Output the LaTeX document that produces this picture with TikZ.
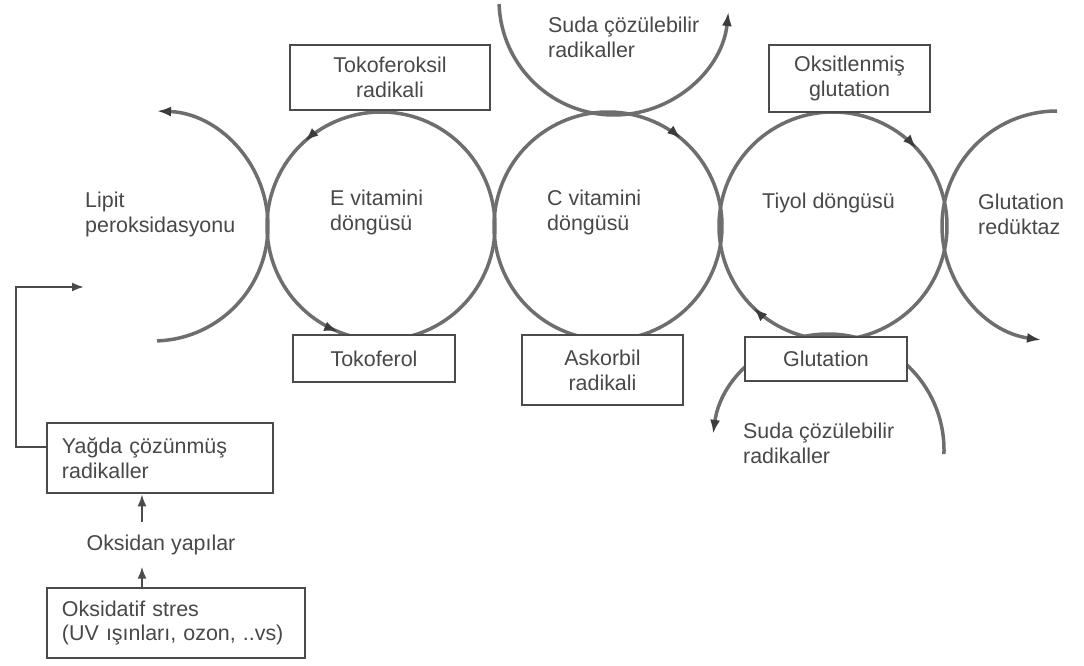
\documentclass[tikz,border=0pt]{standalone}
\usepackage{fontspec}
\setmainfont{Liberation Sans}
\usetikzlibrary{arrows.meta,decorations.markings,calc}
\definecolor{linegray}{RGB}{110,110,110}
\definecolor{tipgray}{RGB}{60,60,60}
\definecolor{boxgray}{RGB}{75,75,75}
\definecolor{txtgray}{RGB}{72,72,72}
\newcommand{\lbl}{\fontsize{21.5}{25}\selectfont}
\tikzset{
  cyc/.style={color=linegray, line width=3.5bp},
  tipend/.style={-{Latex[length=14bp,width=10bp,color=tipgray]}},
  twomarks/.style 2 args={postaction={decorate}, decoration={markings,
      mark=at position #1 with {\arrow{Latex[length=14bp,width=10bp,color=tipgray]}},
      mark=at position #2 with {\arrow{Latex[length=14bp,width=10bp,color=tipgray]}}}},
  box/.style={draw=boxgray, line width=2.6bp, fill=white, text=txtgray, font=\lbl, align=center, inner sep=0pt},
  txt/.style={text=txtgray, font=\lbl, align=left, inner sep=0pt},
  conn/.style={draw=boxgray, line width=2bp, -{Latex[length=12bp,width=9bp]}},
}
\begin{document}
\begin{tikzpicture}[x=1bp,y=-1bp]
\fill[white] (0,0) rectangle (1084,666);
\useasboundingbox (0,0) rectangle (1084,666);

% cycles
\draw[cyc, twomarks={0.2}{0.522}] (381,226) ++(300:114) arc[start angle=300, end angle=-60, radius=114];
\draw[cyc, twomarks={0.194}{0.625}] (608,226) ++(-120:114) arc[start angle=-120, end angle=240, radius=114];
\draw[cyc, twomarks={0.214}{0.706}] (833,226) ++(-120:114) arc[start angle=-120, end angle=240, radius=114];

% open arcs
\draw[cyc, tipend] (153,226) ++(88:115) arc[start angle=88, end angle=-88, radius=115];
\draw[cyc, tipend] (1057,226) ++(270:115) arc[start angle=270, end angle=98, radius=115];
\draw[cyc, tipend] (614,0) ++(178:115) arc[start angle=178, end angle=6, radius=115];
\draw[cyc, tipend] (828,450) ++(2:116) arc[start angle=2, end angle=-172, radius=116];

% free texts
\node[txt, anchor=north west] (lipid) at (85,192) {Lipit\\peroksidasyonu};
\node[txt, anchor=north west] (evit) at (330,190) {E vitamini\\döngüsü};
\node[txt, anchor=north west] (cvit) at (547,190) {C vitamini\\döngüsü};
\node[txt, anchor=north west] (tiyol) at (762,193) {Tiyol döngüsü};
\node[txt, anchor=north west] (gr) at (978,194) {Glutation\\redüktaz};
\node[txt, anchor=north west] (sudaust) at (548,17) {Suda çözülebilir\\radikaller};
\node[txt, anchor=north west] (sudaalt) at (743,423) {Suda çözülebilir\\radikaller};

% boxes
\node[box, minimum width=200bp, minimum height=65bp] (tokrad) at (390,77.5) {Tokoferoksil\\radikali};
\node[box, minimum width=161bp, minimum height=67bp] (oksglu) at (849.5,78.5) {Oksitlenmiş\\glutation};
\node[box, minimum width=162bp, minimum height=47bp] (tokoferol) at (374,358.5) {Tokoferol};
\node[box, minimum width=161bp, minimum height=70bp] (askorbil) at (602.5,370) {Askorbil\\radikali};
\node[box, minimum width=162bp, minimum height=44bp] (glut) at (826,359) {Glutation};
\node[box, text width=196bp, inner xsep=15bp, align=left, minimum height=70bp] (yagda) at (160,458) {Yağda çözünmüş\\radikaller};
\node[box, text width=228bp, inner xsep=15bp, align=left, minimum height=70bp] (stress) at (176,623) {Oksidatif stres\\(UV ışınları, ozon, ..vs)};
\node[txt, anchor=base, inner ysep=12bp] (oksidan) at (161,550) {Oksidan yapılar};

% connectors
\coordinate (ax) at (142,0);
\coordinate (lipin) at (84,287);
\draw[conn] (stress.north -| ax) -- (oksidan.south -| ax);
\draw[conn] (oksidan.north -| ax) -- (yagda.south -| ax);
\draw[conn] ([yshift=11bp]yagda.west) -- ++(-30,0) |- (lipin);
\end{tikzpicture}
\end{document}
